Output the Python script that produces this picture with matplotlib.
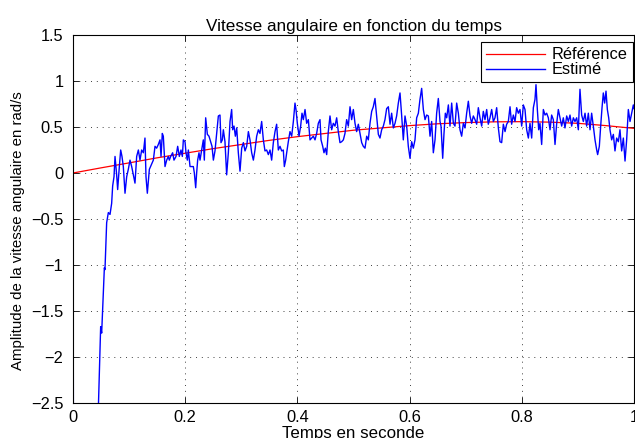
import matplotlib
matplotlib.use("Agg")
import matplotlib.pyplot as plt
import numpy as np

plt.rcParams['font.family'] = ['Liberation Sans', 'DejaVu Sans']

# Reference angular velocity (rad/s)
t_ref = [0.00, 0.05, 0.10, 0.15, 0.20, 0.25, 0.30, 0.35, 0.40, 0.45, 0.50,
         0.55, 0.60, 0.65, 0.70, 0.75, 0.80, 0.85, 0.90, 0.95, 1.00]
w_ref = [0.000, 0.056, 0.110, 0.165, 0.215, 0.265, 0.310, 0.355, 0.395, 0.430, 0.465,
         0.490, 0.515, 0.535, 0.548, 0.556, 0.558, 0.553, 0.540, 0.515, 0.485]

# Estimated angular velocity (rad/s)
t_est = [0.000, 0.001, 0.020, 0.040, 0.045, 0.0493, 0.0511, 0.0541, 0.0559, 0.0570,
         0.0600, 0.0630, 0.0660, 0.0689, 0.0707, 0.0731, 0.0749, 0.0766, 0.0778, 0.0796,
         0.0826, 0.0850, 0.0873, 0.0897, 0.0927, 0.0957, 0.0986, 0.1016, 0.1046, 0.1075,
         0.1105, 0.1135, 0.1165, 0.1194, 0.1224, 0.1254, 0.1283, 0.1301, 0.1325, 0.1361,
         0.1432, 0.1462, 0.1491, 0.1521, 0.1551, 0.1569, 0.1592, 0.1610, 0.1640, 0.1670,
         0.1699, 0.1717, 0.1741, 0.1776, 0.1800, 0.1836, 0.1866, 0.1895, 0.1925, 0.1949,
         0.1967, 0.1997, 0.2014, 0.2038, 0.2056, 0.2086, 0.2115, 0.2145, 0.2163, 0.2187,
         0.2204, 0.2222, 0.2246, 0.2264, 0.2293, 0.2323, 0.2341, 0.2365, 0.2395, 0.2424,
         0.2454, 0.2478, 0.2502, 0.2531, 0.2561, 0.2591, 0.2620, 0.2638, 0.2662, 0.2680,
         0.2709, 0.2739, 0.2769, 0.2799, 0.2828, 0.2846, 0.2870, 0.2894, 0.2918, 0.2947,
         0.2977, 0.3007, 0.3037, 0.3066, 0.3096, 0.3126, 0.3155, 0.3185, 0.3215, 0.3244,
         0.3274, 0.3304, 0.3333, 0.3363, 0.3393, 0.3422, 0.3452, 0.3482, 0.3512, 0.3541,
         0.3571, 0.3601, 0.3630, 0.3660, 0.3690, 0.3720, 0.3749, 0.3767, 0.3791, 0.3809,
         0.3838, 0.3868, 0.3898, 0.3928, 0.3957, 0.3975, 0.3999, 0.4029, 0.4058, 0.4082,
         0.4106, 0.4136, 0.4165, 0.4195, 0.4225, 0.4254, 0.4284, 0.4314, 0.4343, 0.4373,
         0.4403, 0.4421, 0.4451, 0.4474, 0.4498, 0.4522, 0.4551, 0.4581, 0.4611, 0.4640,
         0.4670, 0.4700, 0.4729, 0.4759, 0.4789, 0.4819, 0.4848, 0.4878, 0.4908, 0.4938,
         0.4967, 0.4997, 0.5027, 0.5056, 0.5086, 0.5116, 0.5146, 0.5175, 0.5205, 0.5235,
         0.5264, 0.5294, 0.5324, 0.5353, 0.5383, 0.5413, 0.5443, 0.5472, 0.5502, 0.5532,
         0.5561, 0.5591, 0.5621, 0.5651, 0.5680, 0.5710, 0.5740, 0.5769, 0.5799, 0.5829,
         0.5859, 0.5888, 0.5918, 0.5948, 0.5977, 0.6007, 0.6037, 0.6066, 0.6096, 0.6126,
         0.6156, 0.6185, 0.6215, 0.6245, 0.6275, 0.6304, 0.6334, 0.6364, 0.6393, 0.6423,
         0.6453, 0.6482, 0.6512, 0.6542, 0.6560, 0.6590, 0.6613, 0.6637, 0.6661, 0.6691,
         0.6720, 0.6750, 0.6780, 0.6809, 0.6839, 0.6869, 0.6898, 0.6928, 0.6958, 0.6988,
         0.7017, 0.7047, 0.7077, 0.7106, 0.7136, 0.7166, 0.7196, 0.7225, 0.7255, 0.7285,
         0.7314, 0.7344, 0.7374, 0.7403, 0.7433, 0.7463, 0.7493, 0.7522, 0.7552, 0.7582,
         0.7611, 0.7641, 0.7671, 0.7701, 0.7730, 0.7760, 0.7790, 0.7819, 0.7849, 0.7879,
         0.7908, 0.7938, 0.7968, 0.7998, 0.8027, 0.8057, 0.8087, 0.8117, 0.8146, 0.8176,
         0.8206, 0.8235, 0.8253, 0.8277, 0.8301, 0.8324, 0.8354, 0.8384, 0.8414, 0.8443,
         0.8473, 0.8503, 0.8532, 0.8562, 0.8592, 0.8622, 0.8651, 0.8681, 0.8711, 0.8740,
         0.8770, 0.8800, 0.8830, 0.8859, 0.8889, 0.8919, 0.8948, 0.8978, 0.9008, 0.9037,
         0.9067, 0.9097, 0.9127, 0.9156, 0.9186, 0.9216, 0.9245, 0.9275, 0.9305, 0.9335,
         0.9352, 0.9382, 0.9406, 0.9430, 0.9453, 0.9477, 0.9501, 0.9525, 0.9549, 0.9572,
         0.9602, 0.9632, 0.9661, 0.9691, 0.9721, 0.9750, 0.9780, 0.9810, 0.9840, 0.9869,
         0.9899, 0.9929, 0.9958, 0.9988, 1.0000]
w_est = [0.11, -4.00, -3.60, -3.10, -2.60, -1.67, -1.74, -1.30, -1.03, -1.05,
         -0.54, -0.43, -0.45, -0.33, -0.14, -0.04, 0.18, 0.07, -0.02, -0.18,
         0.07, 0.25, 0.18, 0.07, -0.22, -0.04, 0.04, 0.14, 0.07, -0.02,
         -0.11, 0.18, 0.25, 0.14, 0.25, 0.22, 0.38, -0.04, -0.22, 0.04,
         0.14, 0.29, 0.27, 0.31, 0.36, 0.18, 0.43, 0.40, 0.07, 0.14,
         0.18, 0.14, 0.18, 0.22, 0.14, 0.18, 0.29, 0.18, 0.25, 0.18,
         0.36, 0.34, 0.22, 0.14, 0.25, 0.07, 0.07, 0.07, 0.00, -0.16,
         0.00, 0.14, 0.22, 0.14, 0.25, 0.36, 0.14, 0.60, 0.42, 0.40,
         0.34, 0.29, 0.14, 0.24, 0.43, 0.62, 0.63, 0.33, 0.36, 0.47,
         0.34, -0.02, 0.22, 0.56, 0.69, 0.47, 0.51, 0.40, 0.49, 0.22,
         0.02, 0.27, 0.33, 0.24, 0.29, 0.45, 0.36, 0.22, 0.14, 0.25,
         0.40, 0.47, 0.43, 0.56, 0.36, 0.24, 0.25, 0.20, 0.25, 0.14,
         0.33, 0.45, 0.53, 0.25, 0.29, 0.24, 0.25, 0.07, 0.14, 0.22,
         0.34, 0.45, 0.40, 0.56, 0.76, 0.69, 0.54, 0.40, 0.51, 0.65,
         0.58, 0.69, 0.54, 0.58, 0.36, 0.38, 0.40, 0.36, 0.43, 0.54,
         0.58, 0.36, 0.29, 0.22, 0.27, 0.20, 0.45, 0.62, 0.47, 0.54,
         0.51, 0.60, 0.45, 0.33, 0.34, 0.36, 0.43, 0.58, 0.51, 0.72,
         0.58, 0.69, 0.54, 0.45, 0.53, 0.43, 0.33, 0.29, 0.27, 0.40,
         0.36, 0.54, 0.67, 0.72, 0.81, 0.62, 0.42, 0.38, 0.47, 0.51,
         0.58, 0.70, 0.72, 0.53, 0.65, 0.49, 0.54, 0.62, 0.76, 0.87,
         0.62, 0.36, 0.62, 0.51, 0.29, 0.16, 0.34, 0.27, 0.36, 0.60,
         0.65, 0.80, 0.92, 0.69, 0.58, 0.63, 0.62, 0.40, 0.56, 0.22,
         0.36, 0.65, 0.81, 0.56, 0.51, 0.16, 0.43, 0.65, 0.60, 0.74,
         0.51, 0.76, 0.54, 0.51, 0.76, 0.65, 0.47, 0.40, 0.54, 0.49,
         0.65, 0.78, 0.62, 0.54, 0.62, 0.58, 0.53, 0.71, 0.60, 0.51,
         0.67, 0.58, 0.69, 0.53, 0.60, 0.69, 0.56, 0.60, 0.71, 0.49,
         0.34, 0.33, 0.53, 0.45, 0.53, 0.56, 0.72, 0.53, 0.63, 0.56,
         0.71, 0.65, 0.69, 0.51, 0.74, 0.69, 0.47, 0.38, 0.54, 0.38,
         0.71, 0.80, 0.96, 0.69, 0.47, 0.54, 0.31, 0.69, 0.63, 0.65,
         0.60, 0.47, 0.63, 0.58, 0.31, 0.54, 0.69, 0.60, 0.51, 0.60,
         0.49, 0.62, 0.56, 0.63, 0.51, 0.60, 0.56, 0.60, 0.47, 0.91,
         0.63, 0.56, 0.65, 0.51, 0.65, 0.47, 0.65, 0.51, 0.36, 0.25,
         0.20, 0.29, 0.51, 0.71, 0.87, 0.76, 0.89, 0.69, 0.60, 0.47,
         0.36, 0.42, 0.24, 0.38, 0.34, 0.47, 0.24, 0.38, 0.13, 0.36,
         0.69, 0.56, 0.65, 0.74, 0.70]

x_ticks = [0, 0.2, 0.4, 0.6, 0.8, 1]
x_labels = ['0', '0.2', '0.4', '0.6', '0.8', '1']
y_ticks = [-2.5, -2, -1.5, -1, -0.5, 0, 0.5, 1, 1.5]
y_labels = ['\u22122.5', '\u22122', '\u22121.5', '\u22121', '\u22120.5', '0', '0.5', '1', '1.5']

FS = 11.8
W, H = 635, 438
fig = plt.figure(figsize=(W / 100, H / 100), dpi=100)
left, right, top, bottom = 73, 634, 35, 403
aw, ah = right - left, bottom - top
ax = fig.add_axes([left / W, 1 - bottom / H, aw / W, ah / H])

ax.plot(t_ref, w_ref, color='#ff0000', lw=0.9, label='Référence')
ax.plot(t_est, w_est, color='#0000ff', lw=1.0, label='Estimé')

ax.set_xlim(0, 1)
ax.set_ylim(-2.5, 1.5)
ax.set_xticks(x_ticks)
ax.set_xticklabels(x_labels)
ax.set_yticks(y_ticks)
ax.set_yticklabels(y_labels)

ax.grid(True, color='0.25', linestyle=(0, (1, 5)), lw=0.7)
ax.tick_params(direction='in', length=4, width=0.6, top=True, right=True,
               labelsize=FS, colors='black')
ax.tick_params(axis='x', pad=5)
ax.tick_params(axis='y', pad=7)
for s in ax.spines.values():
    s.set_linewidth(0.8)
    s.set_color('black')

ax.set_title('Vitesse angulaire en fonction du temps', fontsize=12.3, pad=3)
ax.set_xlabel('Temps en seconde', fontsize=12.2, va='top')
ax.set_ylabel('Amplitude de la vitesse angulaire en rad/s', fontsize=10.8)
ax.xaxis.set_label_coords(0.5, -(426 - bottom) / ah)
ax.yaxis.set_label_coords(-(left - 25) / aw, (bottom - 231) / ah)

leg = ax.legend(loc='upper right', bbox_to_anchor=(1 - 1.5 / aw, 1 - 7.5 / ah),
                borderaxespad=0, fontsize=FS, handlelength=3.6, handletextpad=0.4,
                borderpad=0.3, labelspacing=0.0, fancybox=False, framealpha=1,
                edgecolor='black')
leg.get_frame().set_linewidth(0.8)

fig.savefig('out.png', dpi=100)
